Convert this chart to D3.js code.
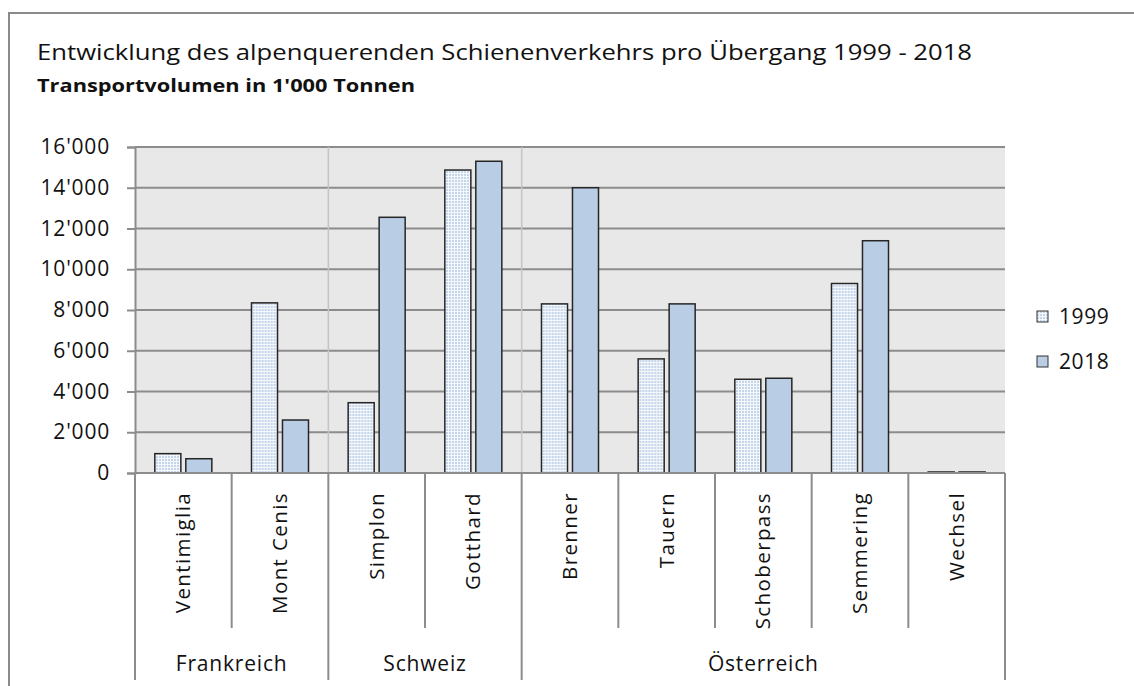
<!DOCTYPE html>
<html>
<head>
<meta charset="utf-8">
<script src="https://cdn.jsdelivr.net/npm/d3@7"></script>
<style>
  body { margin: 0; background: #fff; }
  text { font-family: "Open Sans", sans-serif; fill: #111; }
</style>
</head>
<body>
<div id="content"></div>
<script>
// data
var categories = ['Ventimiglia', 'Mont Cenis', 'Simplon', 'Gotthard', 'Brenner', 'Tauern', 'Schoberpass', 'Semmering', 'Wechsel']
var groups = ['Frankreich', 'Frankreich', 'Schweiz', 'Schweiz', 'Österreich', 'Österreich', 'Österreich', 'Österreich', 'Österreich']
var series = ['1999', '2018']
var values1999 = [950, 8350, 3450, 14870, 8300, 5600, 4600, 9300, 50]
var values2018 = [700, 2600, 12550, 15300, 14000, 8300, 4650, 11400, 50]
var yTicks = [0, 2000, 4000, 6000, 8000, 10000, 12000, 14000, 16000]

var width = 1134, height = 686
var plot = { left: 135, right: 1005, top: 147, bottom: 473 }

var svg = d3.select('#content')
    .append('svg')
    .attr('width', width)
    .attr('height', height)

// dotted fill for 1999
var pat = svg.append('defs')
    .append('pattern')
    .attr('id', 'dots')
    .attr('patternUnits', 'userSpaceOnUse')
    .attr('width', 3)
    .attr('height', 3)
pat.append('rect').attr('width', 3).attr('height', 3).attr('fill', '#f4f7fb')
pat.append('rect').attr('width', 2).attr('height', 2).attr('fill', '#c5d5ea')

// outer frame (runs off the right and bottom edge)
svg.append('rect')
    .attr('x', 9).attr('y', 13)
    .attr('width', 1300).attr('height', 800)
    .attr('fill', 'none')
    .attr('stroke', '#8a8a8a')
    .attr('stroke-width', 2)

// titles
svg.append('text')
    .attr('x', 37).attr('y', 60)
    .attr('font-size', 22)
    .attr('textLength', 935)
    .attr('lengthAdjust', 'spacingAndGlyphs')
    .text('Entwicklung des alpenquerenden Schienenverkehrs pro Übergang 1999 - 2018')

svg.append('text')
    .attr('x', 37).attr('y', 92)
    .attr('font-size', 18)
    .attr('font-weight', 'bold')
    .attr('textLength', 378)
    .attr('lengthAdjust', 'spacingAndGlyphs')
    .text("Transportvolumen  in 1'000 Tonnen")

// scales
var x = d3.scaleBand().domain(categories).range([plot.left, plot.right])
var xInner = d3.scaleBand().domain(series).range([0, x.bandwidth()]).paddingInner(0.16).paddingOuter(0.64)
var y = d3.scaleLinear().domain([0, 16000]).range([plot.bottom, plot.top])

var fmt = d3.formatLocale({ decimal: '.', thousands: "'", grouping: [3], currency: ['', ''] }).format(',')

// plot background
svg.append('rect')
    .attr('x', plot.left).attr('y', plot.top)
    .attr('width', plot.right - plot.left)
    .attr('height', plot.bottom - plot.top)
    .attr('fill', '#e8e8e8')

// gridlines
svg.append('g')
    .selectAll('line')
    .data(yTicks.filter(d => d > 0))
    .join('line')
    .attr('x1', plot.left).attr('x2', plot.right)
    .attr('y1', d => y(d)).attr('y2', d => y(d))
    .attr('stroke', '#8c8c8c')
    .attr('stroke-width', 2)

// group separators inside the plot
var groupEdges = []
categories.forEach((c, i) => { if (i > 0 && groups[i] !== groups[i - 1]) groupEdges.push(x(c)) })
svg.append('g')
    .selectAll('line')
    .data(groupEdges)
    .join('line')
    .attr('x1', d => d).attr('x2', d => d)
    .attr('y1', plot.top).attr('y2', plot.bottom)
    .attr('stroke', '#c4c4c4')
    .attr('stroke-width', 1.5)

// y axis
var yAxis = svg.append('g')
    .attr('transform', `translate(${plot.left},0)`)
    .call(d3.axisLeft(y).tickValues(yTicks).tickFormat(fmt).tickSize(8).tickPadding(17))
yAxis.select('.domain').attr('stroke', '#8c8c8c').attr('stroke-width', 2)
yAxis.selectAll('.tick line').attr('stroke', '#8c8c8c').attr('stroke-width', 2)
yAxis.selectAll('.tick text')
    .attr('font-family', '"Open Sans", sans-serif')
    .attr('font-size', 21)
    .attr('letter-spacing', 0.8)
    .attr('fill', '#111')

// bars
var rows = categories.map((c, i) => ({ cat: c, vals: [values1999[i], values2018[i]] }))
var barG = svg.append('g')
    .selectAll('g')
    .data(rows)
    .join('g')
    .attr('transform', d => `translate(${x(d.cat)},0)`)

barG.selectAll('rect')
    .data(d => d.vals.map((v, j) => ({ key: series[j], v: v })))
    .join('rect')
    .attr('x', d => xInner(d.key))
    .attr('width', xInner.bandwidth())
    .attr('y', d => y(d.v))
    .attr('height', d => y(0) - y(d.v))
    .attr('fill', d => d.key === '1999' ? 'url(#dots)' : '#b9cde5')
    .attr('stroke', '#262626')
    .attr('stroke-width', 1.5)

// x axis line
svg.append('line')
    .attr('x1', plot.left).attr('x2', plot.right)
    .attr('y1', plot.bottom).attr('y2', plot.bottom)
    .attr('stroke', '#8c8c8c')
    .attr('stroke-width', 2)

// category separators below axis
var catEdges = categories.map((c, i) => ({ pos: x(c), major: i === 0 || groups[i] !== groups[i - 1] }))
catEdges.push({ pos: plot.right, major: true })
svg.append('g')
    .selectAll('line')
    .data(catEdges)
    .join('line')
    .attr('x1', d => d.pos).attr('x2', d => d.pos)
    .attr('y1', plot.bottom).attr('y2', d => d.major ? 680 : 628)
    .attr('stroke', '#8c8c8c')
    .attr('stroke-width', 2)

// category labels
svg.append('g')
    .selectAll('text')
    .data(categories)
    .join('text')
    .attr('transform', d => `translate(${x(d) + x.bandwidth() / 2 + 7},492) rotate(-90)`)
    .attr('text-anchor', 'end')
    .attr('font-size', 20.5)
    .attr('letter-spacing', 1.4)
    .text(d => d)

// group labels
var groupNames = Array.from(new Set(groups))
svg.append('g')
    .selectAll('text')
    .data(groupNames)
    .join('text')
    .attr('x', g => {
        var cs = categories.filter((c, i) => groups[i] === g)
        return (x(cs[0]) + x(cs[cs.length - 1]) + x.bandwidth()) / 2
    })
    .attr('y', 671)
    .attr('text-anchor', 'middle')
    .attr('font-size', 21)
    .attr('letter-spacing', 0.8)
    .text(g => g)

// legend
var legend = svg.append('g')
    .selectAll('g')
    .data(series)
    .join('g')
    .attr('transform', (d, i) => `translate(1037,${311 + i * 45})`)
legend.append('rect')
    .attr('width', 11).attr('height', 11)
    .attr('fill', d => d === '1999' ? 'url(#dots)' : '#b9cde5')
    .attr('stroke', '#333')
    .attr('stroke-width', 1)
legend.append('text')
    .attr('x', 22).attr('y', 13)
    .attr('font-size', 21)
    .attr('letter-spacing', 0.6)
    .text(d => d)
</script>
</body>
</html>
